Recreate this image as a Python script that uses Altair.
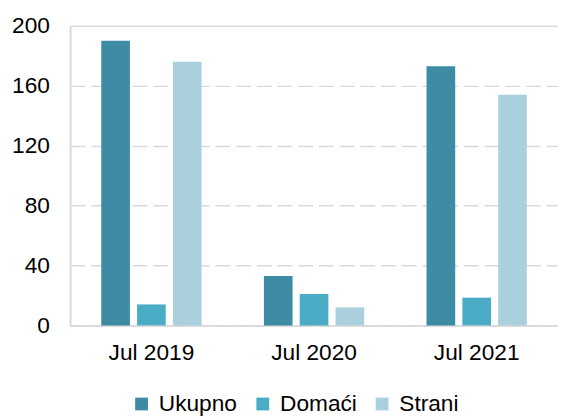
import altair as alt
import pandas as pd

periods = ["Jul 2019", "Jul 2020", "Jul 2021"]
series = ["Ukupno", "Domaći", "Strani"]
ukupno = [190, 33, 173]
domaci = [14, 21, 18.5]
strani = [176, 12, 154]
colors = ["#3d8ca3", "#4bacc6", "#aad0dd"]

rows = []
for i, p in enumerate(periods):
    for s, vals in zip(series, [ukupno, domaci, strani]):
        rows.append({"period": p, "series": s, "value": vals[i]})
df = pd.DataFrame(rows)

FONT = "Liberation Sans"
FS = 23
LINE = "#d9d9d9"

bars = alt.Chart(df).mark_bar().encode(
    x=alt.X("period:N", sort=periods, title=None,
            scale=alt.Scale(paddingInner=0, paddingOuter=0),
            axis=alt.Axis(labelAngle=0, ticks=False, domain=True, domainColor=LINE,
                          domainWidth=2, labelPadding=17,
                          labelFontSize=FS, labelFont=FONT, labelColor="#000000")),
    xOffset=alt.XOffset("series:N", sort=series,
                        scale=alt.Scale(paddingInner=0.2, paddingOuter=0.87)),
    y=alt.Y("value:Q", title=None,
            scale=alt.Scale(domain=[0, 200]),
            axis=alt.Axis(values=[0, 40, 80, 120, 160, 200], ticks=False, domain=True,
                          domainColor=LINE, domainWidth=2,
                          labelPadding=21, labelFontSize=FS, labelFont=FONT,
                          labelColor="#000000", gridColor=LINE, gridWidth=1.5,
                          gridDash={"condition": {"test": "datum.value === 200", "value": []},
                                    "value": [15, 6]})),
    color=alt.Color("series:N", sort=series,
                    scale=alt.Scale(domain=series, range=colors),
                    legend=alt.Legend(title=None, orient="none", direction="horizontal",
                                      legendX=61, legendY=372,
                                      symbolType="square", symbolSize=169,
                                      symbolStrokeWidth=0, labelFontSize=FS,
                                      labelFont=FONT, labelColor="#000000",
                                      columnPadding=14, labelOffset=6)),
)

chart = bars.properties(
    width=495, height=304,
    autosize=alt.AutoSizeParams(type="none"),
    padding={"left": 63, "top": 15, "right": 0, "bottom": 95},
).configure_view(strokeOpacity=0)

chart.save("out.html", embed_options={"renderer": "svg", "actions": False})
